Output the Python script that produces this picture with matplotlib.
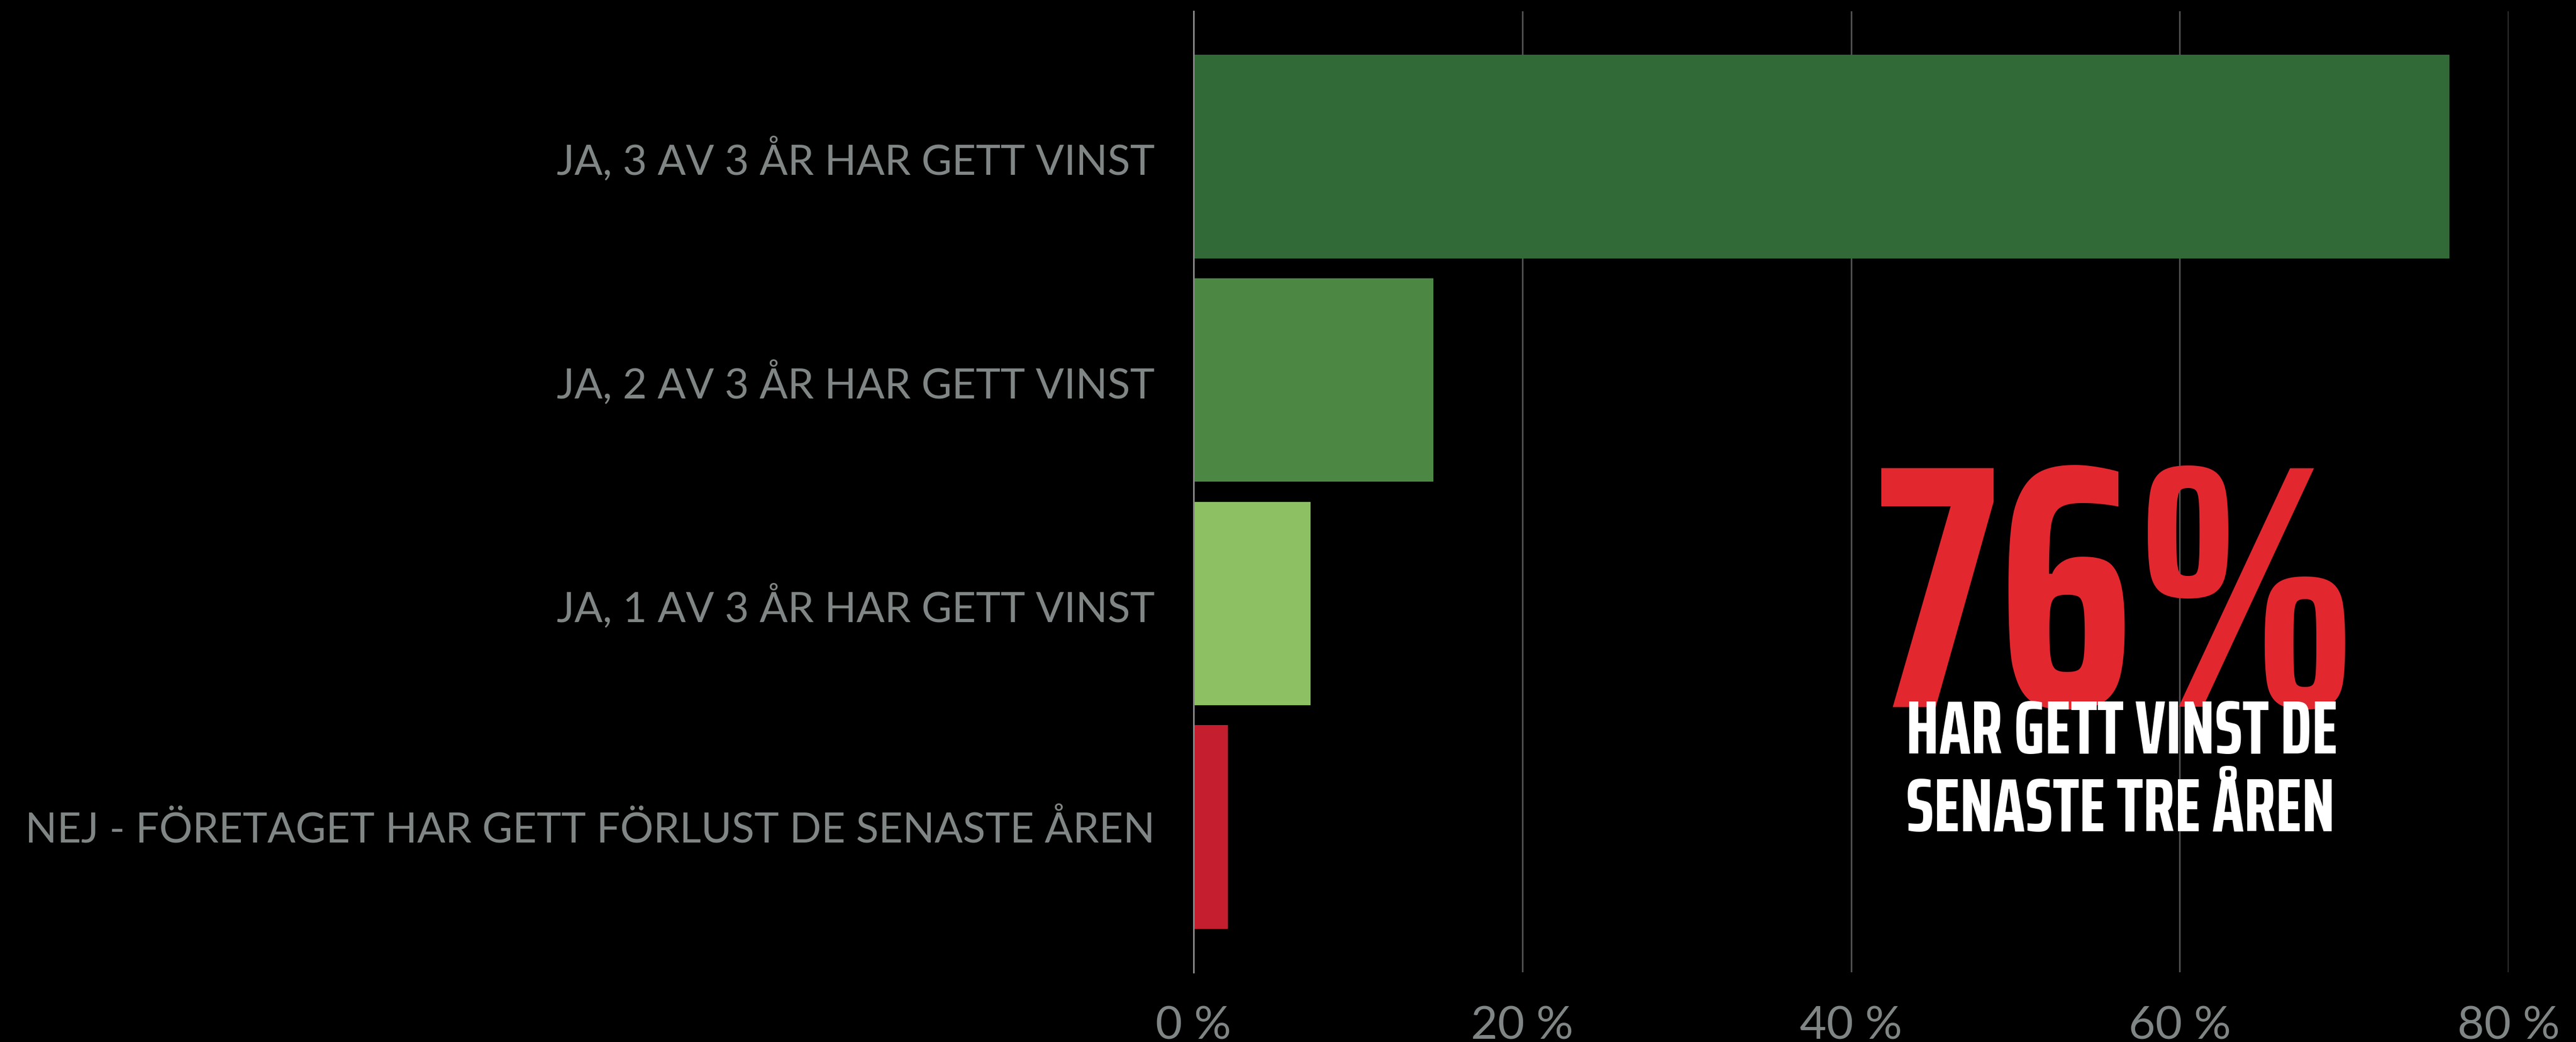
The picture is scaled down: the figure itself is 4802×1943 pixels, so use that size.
import matplotlib
matplotlib.use("Agg")
import matplotlib.pyplot as plt
from matplotlib.font_manager import FontProperties
from matplotlib.textpath import TextPath

# ------------------------------------------------------------------
# Data
# ------------------------------------------------------------------
categories = [
    "JA, 3 AV 3 ÅR HAR GETT VINST",
    "JA, 2 AV 3 ÅR HAR GETT VINST",
    "JA, 1 AV 3 ÅR HAR GETT VINST",
    "NEJ - FÖRETAGET HAR GETT FÖRLUST DE SENASTE ÅREN",
]
values = [76.4, 14.6, 7.1, 2.1]
bar_colors = ["#316a37", "#4c8844", "#8dc063", "#c41e2f"]
x_ticks = [0, 20, 40, 60, 80]
x_tick_labels = ["0 %", "20 %", "40 %", "60 %", "80 %"]
headline = "76%"
subline_1 = "HAR GETT VINST DE"
subline_2 = "SENASTE TRE ÅREN"

# ------------------------------------------------------------------
# Figure
# ------------------------------------------------------------------
W, H, DPI = 4802, 1943, 100
fig = plt.figure(figsize=(W / DPI, H / DPI), dpi=DPI, facecolor="black")

ax_left, ax_right = 2225 / W, 4676 / W
ax_top, ax_bot = 1 - 21 / H, 1 - 1813 / H
ax = fig.add_axes([ax_left, ax_bot, ax_right - ax_left, ax_top - ax_bot])
ax.set_facecolor("black")

ypos = range(len(categories))
ax.barh(ypos, values, height=0.91, color=bar_colors, zorder=3)
ax.set_ylim(3.65, -0.65)
ax.set_xlim(0, 80)

for s in ["top", "right", "bottom"]:
    ax.spines[s].set_visible(False)
ax.spines["left"].set_color("#858585")
ax.spines["left"].set_linewidth(2.2)
ax.spines["left"].set_zorder(4)

ax.grid(axis="x", color="#4d4d4d", linewidth=2.2, zorder=1)
ax.set_xticks(x_ticks)
ax.set_xticklabels(x_tick_labels)
ax.set_yticks(list(ypos))
ax.set_yticklabels(categories)
ax.tick_params(axis="both", length=0)
ax.tick_params(axis="x", pad=44, labelsize=62, labelcolor="#808585")
ax.tick_params(axis="y", pad=52, labelsize=56, labelcolor="#808585")
for lab in ax.get_xticklabels() + ax.get_yticklabels():
    lab.set_fontfamily(["Lato", "DejaVu Sans"])
    lab.set_fontweight("normal")

# ------------------------------------------------------------------
# Callout — size the condensed font from its glyph heights
# ------------------------------------------------------------------
cond = ["Saira ExtraCondensed", "Barlow Condensed", "DejaVu Sans"]
fp = FontProperties(family=cond, weight="bold")
dig_h = TextPath((0, 0), "76", prop=fp, size=100).get_extents().height / 100
cap_h = TextPath((0, 0), "H", prop=fp, size=100).get_extents().height / 100

big_px, sub_px = 455, 97          # target glyph heights in pixels
big_pt = big_px / dig_h * 72 / DPI
sub_pt = sub_px / cap_h * 72 / DPI

fig.text(3947 / W, 1 - 1318 / H, headline, color="#e2272f", fontsize=big_pt,
         fontweight="bold", family=cond, ha="center", va="baseline")
fig.text(3553 / W, 1 - 1405 / H, subline_1, color="white", fontsize=sub_pt,
         fontweight="bold", family=cond, ha="left", va="baseline")
fig.text(3553 / W, 1 - 1550 / H, subline_2, color="white", fontsize=sub_pt,
         fontweight="bold", family=cond, ha="left", va="baseline")

fig.savefig("out.png", dpi=DPI, facecolor="black")
